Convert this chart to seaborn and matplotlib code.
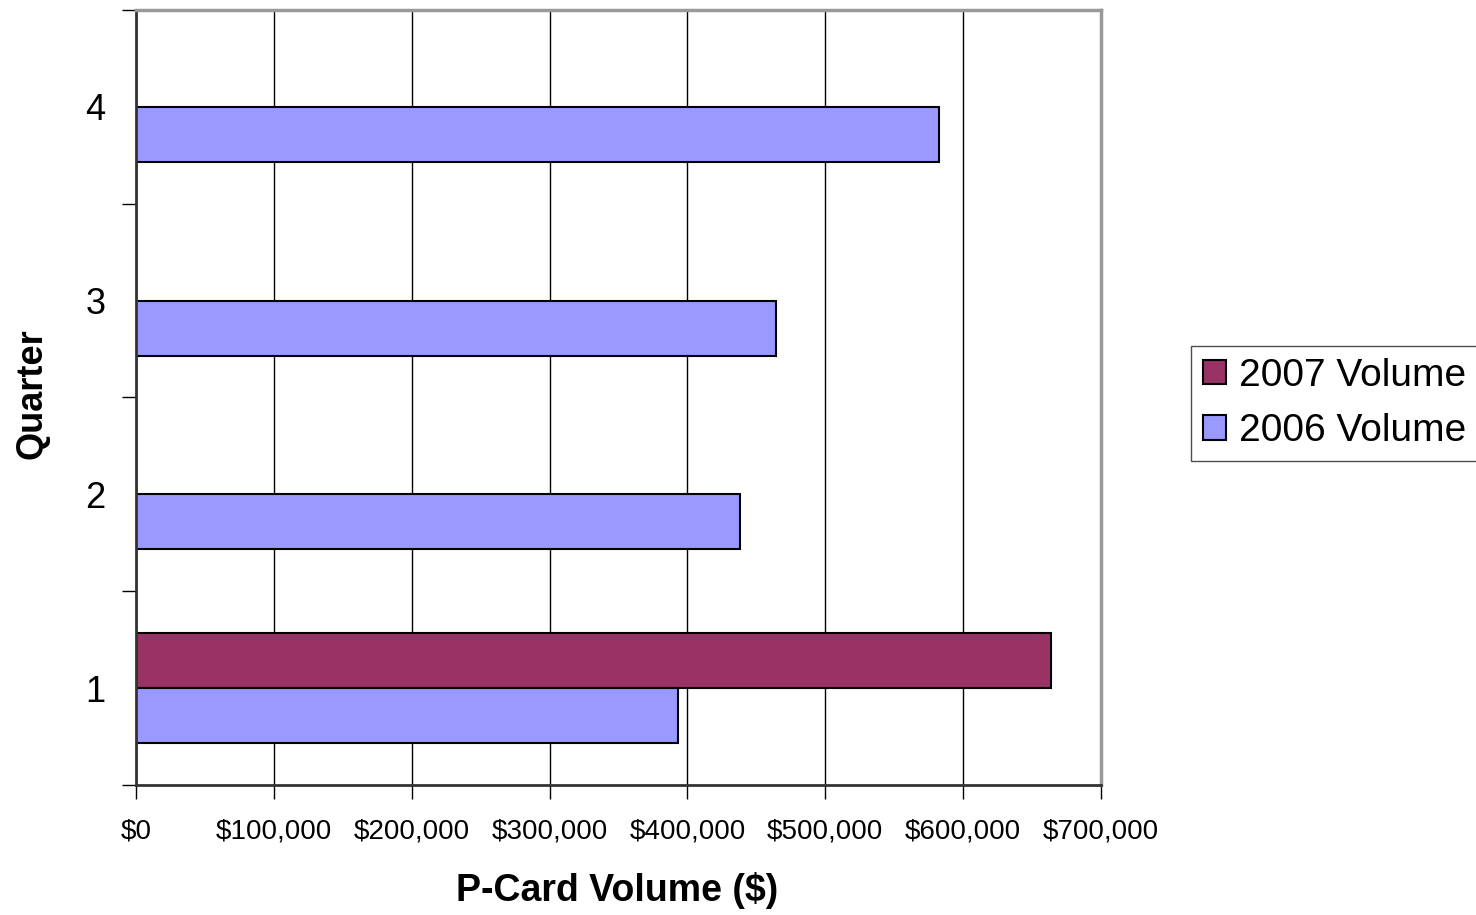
import matplotlib
matplotlib.use("Agg")
import matplotlib.pyplot as plt
import matplotlib.ticker as mticker
from matplotlib.patches import Patch
import pandas as pd
import seaborn as sns

# Data
quarters = ["4", "3", "2", "1"]
series_names = ["2007 Volume", "2006 Volume"]
volume_2007 = [0, 0, 0, 663500]      # only Q1 reported for 2007
volume_2006 = [582500, 464000, 438000, 393000]
x_ticks = [0, 100000, 200000, 300000, 400000, 500000, 600000, 700000]
colors = {"2007 Volume": "#993366", "2006 Volume": "#9999FF"}

df = pd.concat([
    pd.DataFrame({"Quarter": quarters, "Volume": volume_2007, "Series": series_names[0]}),
    pd.DataFrame({"Quarter": quarters, "Volume": volume_2006, "Series": series_names[1]}),
])

sns.set_style("white")
plt.rcParams["font.family"] = ["Liberation Sans", "DejaVu Sans"]
plt.rcParams["text.color"] = "black"
plt.rcParams["axes.labelcolor"] = "black"
plt.rcParams["xtick.color"] = "black"
plt.rcParams["ytick.color"] = "black"

fig = plt.figure(figsize=(14.76, 9.15), dpi=100)
ax = fig.add_axes([0.0921, 0.1421, 0.6538, 0.8470])

sns.barplot(data=df, x="Volume", y="Quarter", hue="Series",
            order=quarters, hue_order=series_names, palette=colors,
            orient="h", width=0.567, saturation=1, edgecolor="black",
            linewidth=1.5, legend=False, ax=ax)

# hide zero-width bars so they don't leave an edge stroke
for p in ax.patches:
    if p.get_width() == 0:
        p.set_visible(False)

ax.set_xlim(0, 700000)
ax.set_ylim(3.5, -0.5)
ax.xaxis.set_major_locator(mticker.FixedLocator(x_ticks))
ax.xaxis.set_major_formatter(mticker.FuncFormatter(lambda v, _: f"${v:,.0f}"))
ax.grid(axis="x", color="black", linewidth=1)
ax.grid(axis="y", visible=False)
ax.set_axisbelow(True)

# y ticks: labels in the middle, tick marks at the category boundaries
ax.yaxis.set_minor_locator(mticker.FixedLocator([-0.5, 0.5, 1.5, 2.5, 3.5]))
ax.tick_params(axis="y", which="major", length=0, pad=22, labelsize=26)
ax.tick_params(axis="y", which="minor", length=10, width=1, color="black", direction="out", left=True)
ax.tick_params(axis="x", which="major", length=10, width=1, color="black", direction="out",
               bottom=True, pad=14, labelsize=20)

for side in ["left", "bottom"]:
    ax.spines[side].set_color("#333333")
    ax.spines[side].set_linewidth(2)
for side in ["top", "right"]:
    ax.spines[side].set_visible(True)
    ax.spines[side].set_color("#999999")
    ax.spines[side].set_linewidth(2.5)

ax.set_xlabel("P-Card Volume ($)", fontsize=27, fontweight="bold")
ax.xaxis.set_label_coords(0.4985, -0.112)
ax.set_ylabel("Quarter", fontsize=26, fontweight="bold")
ax.yaxis.set_label_coords(-0.09, 0.505)

handles = [Patch(facecolor=colors[s], edgecolor="black", linewidth=1.5) for s in series_names]
leg = ax.legend(handles, series_names, loc="upper left", bbox_to_anchor=(1.0933, 0.5665),
                fontsize=28, frameon=True, fancybox=False, handlelength=0.6,
                handleheight=0.6, handletextpad=0.33, borderpad=0.3, labelspacing=0.5,
                borderaxespad=0)
leg.get_frame().set_edgecolor("#222222")
leg.get_frame().set_linewidth(1)

fig.savefig("out.png", dpi=100)
